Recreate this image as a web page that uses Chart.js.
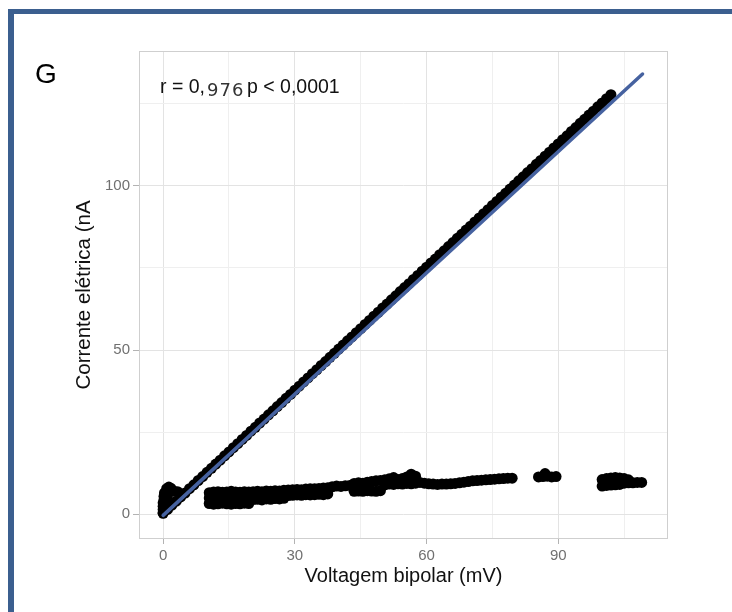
<!DOCTYPE html>
<html>
<head>
<meta charset="utf-8">
<script src="https://cdn.jsdelivr.net/npm/chart.js@4.4.1/dist/chart.umd.min.js"></script>
<style>
  html, body { margin: 0; padding: 0; background: #fff; }
  #wrap { position: relative; width: 732px; height: 612px; overflow: hidden; }
  #frame { position: absolute; left: 8px; top: 9px; right: -10px; bottom: -10px;
           border-left: 6px solid #3b5f8f; border-top: 5px solid #3b5f8f; pointer-events: none; }
  canvas { position: absolute; left: 0; top: 0; }
</style>
</head>
<body>
<div id="wrap">
  <canvas id="chart" width="732" height="612"></canvas>
  <div id="frame"></div>
</div>
<script>
// ticks
const xTicks = [0, 30, 60, 90];
const yTicks = [0, 50, 100];

// points on the steep branch
const diagX = [0,1,2,3,4,5,6,7,8,9,10,11,12,13,14,15,16,17,18,19,20,21,22,23,24,25,26,27,28,29,30,
  31,32,33,34,35,36,37,38,39,40,41,42,43,44,45,46,47,48,49,50,51,52,53,54,55,56,57,58,59,60,
  61,62,63,64,65,66,67,68,69,70,71,72,73,74,75,76,77,78,79,80,81,82,83,84,85,86,87,88,89,90,
  91,92,93,94,95,96,97,98,99,100,101,102];
const diagY = [0.3,1.5,2.8,4.0,5.3,6.5,7.8,9.0,10.3,11.5,12.8,14.0,15.3,16.5,17.8,19.0,20.3,21.5,22.8,24.0,25.3,
  26.5,27.8,29.0,30.3,31.5,32.8,34.0,35.3,36.5,37.8,39.0,40.3,41.5,42.8,44.0,45.3,46.5,47.8,49.0,50.3,
  51.5,52.8,54.0,55.3,56.5,57.8,59.0,60.3,61.5,62.8,64.0,65.3,66.5,67.8,69.0,70.2,71.5,72.7,74.0,75.2,
  76.5,77.7,79.0,80.2,81.5,82.7,84.0,85.2,86.5,87.7,89.0,90.2,91.5,92.7,94.0,95.2,96.5,97.7,99.0,100.2,
  101.5,102.7,104.0,105.2,106.5,107.7,109.0,110.2,111.5,112.7,114.0,115.2,116.5,117.7,119.0,120.2,121.5,122.7,124.0,125.2,
  126.5,127.7];

// cluster at the origin
const zeroX = [0, 0, 0, 0, 0.2, 0.2, 0.3, 0.6, 1, 1, 0.8, 1.3, 1.8, 2.5, 3.3];
const zeroY = [0.5, 1.5, 2.5, 3.5, 4.5, 5.5, 6.5, 3, 4.5, 6, 7.8, 8.3, 7.9, 7.0, 6.9];

// flat branch
const lowX = [
  10.5,11.5,12.5,13.5,14.5,15.5,16.5,17.5,18.5,19.5,
  10.5,11.5,12.5,13.5,14.5,15.5,16.5,17.5,18.5,19.5,
  10.5,11.5,12.5,13.5,14.5,15.5,16.5,17.5,18.5,19.5,
  20.5,21.5,22.5,23.5,24.5,25.5,26.5,27.5,
  20.5,21.5,22.5,23.5,24.5,25.5,26.5,27.5,
  28.5,29.5,30.5,31.5,32.5,33.5,34.5,35.5,36.5,37.5,
  28.5,29.5,30.5,31.5,32.5,33.5,34.5,35.5,36.5,37.5,
  38.5,39.5,40.5,41.5,42.5,
  43.5,44.5,45.5,46.5,47.5,48.5,49.5,
  43.5,44.5,45.5,46.5,47.5,48.5,49.5,
  50.5,51.5,52.5,53.5,54.5,55.5,56.5,57.5,
  50.5,51.5,52.5,53.5,54.5,55.5,56.5,57.5,
  58.5,59.5,60.5,61.5,62.5,63.5,64.5,65.5,66.5,67.5,68.5,69.5,70.5,71.5,72.5,73.5,74.5,75.5,76.5,77.5,78.5,79.5,
  85.5,86.5,87,87.5,88.5,89.5,
  100,101,102,103,104,105,106,107,108,109,
  100,101,102,103,104,105,106
];
const lowY = [
  3.3,3.1,3.2,3.4,3.2,3.1,3.3,3.2,3.4,3.3,
  5.0,4.9,5.1,5.0,4.8,5.0,5.1,4.9,5.0,5.1,
  6.6,6.8,6.9,6.7,6.8,7.0,6.8,6.7,6.9,6.8,
  4.5,4.6,4.4,4.7,4.6,4.8,4.7,4.9,
  6.9,7.0,6.9,7.1,7.0,7.2,7.1,7.3,
  5.7,5.8,5.9,5.8,6.0,5.9,6.0,6.1,6.0,6.2,
  7.4,7.5,7.6,7.5,7.7,7.8,7.8,7.9,8.0,8.1,
  8.4,8.6,8.5,8.7,8.8,
  7.0,7.1,7.0,7.2,7.1,7.0,7.2,
  9.4,9.6,9.5,9.8,10.0,10.2,10.3,
  9.0,9.2,9.1,9.3,9.2,9.4,9.3,9.5,
  10.5,10.8,11.2,10.6,10.9,11.4,12.2,11.6,
  9.7,9.5,9.3,9.2,9.1,9.2,9.2,9.3,9.4,9.6,9.8,10.0,10.2,10.3,10.4,10.5,10.6,10.7,10.8,10.9,11.0,11.0,
  11.4,11.5,12.4,11.6,11.4,11.5,
  8.6,8.8,8.9,9.0,9.1,9.5,9.6,9.6,9.7,9.7,
  10.6,10.9,11.1,11.2,11.1,10.9,10.5
];

// fitted line
const fitX = [0, 109.2];
const fitY = [-0.3, 134.0];

const toPoints = (xs, ys) => xs.map((x, i) => ({ x: x, y: ys[i] }));
const allPoints = toPoints(diagX, diagY).concat(toPoints(zeroX, zeroY), toPoints(lowX, lowY));

const fontFamily = '"Liberation Sans", Arial, Helvetica, sans-serif';

// panel border, panel letter and the correlation text
const panelDecor = {
  id: 'panelDecor',
  afterDraw(chart) {
    const { ctx, chartArea: a } = chart;
    ctx.save();
    ctx.strokeStyle = '#cfcfcf';
    ctx.lineWidth = 1;
    ctx.strokeRect(a.left + 0.5, a.top + 0.5, a.right - a.left - 1, a.bottom - a.top - 1);

    ctx.fillStyle = '#000';
    ctx.textBaseline = 'alphabetic';
    ctx.textAlign = 'left';
    ctx.font = '28px ' + fontFamily;
    ctx.fillText('G', 35, 83);

    ctx.fillStyle = '#111';
    ctx.font = '19.5px ' + fontFamily;
    ctx.fillText('r = 0,', 160, 93);
    ctx.fillText('p < 0,0001', 247, 93);
    ctx.fillStyle = '#333';
    ctx.letterSpacing = '1px';
    ctx.font = '18px "DejaVu Sans", sans-serif';
    ctx.fillText('976', 207, 96);
    ctx.restore();
  }
};

const ctx = document.getElementById('chart').getContext('2d');
new Chart(ctx, {
  type: 'scatter',
  data: {
    datasets: [
      {
        data: toPoints(fitX, fitY),
        showLine: true,
        borderColor: '#4662a0',
        borderWidth: 3.5,
        borderCapStyle: 'round',
        pointRadius: 0,
        order: 0
      },
      {
        data: allPoints,
        backgroundColor: '#000',
        borderWidth: 0,
        pointRadius: 5.5,
        order: 1
      }
    ]
  },
  options: {
    responsive: false,
    animation: false,
    devicePixelRatio: 1,
    layout: { padding: { top: 51, right: 64, left: 0, bottom: 0 } },
    plugins: {
      legend: { display: false },
      tooltip: { enabled: false }
    },
    scales: {
      x: {
        type: 'linear',
        min: -5.5,
        max: 115,
        afterFit: (scale) => { scale.height = 73; },
        border: { display: false },
        grid: {
          color: c => xTicks.includes(c.tick.value) ? '#e3e3e3' : '#efefef',
          tickColor: c => xTicks.includes(c.tick.value) ? '#b3b3b3' : 'rgba(0,0,0,0)',
          tickLength: 5,
          lineWidth: 1
        },
        ticks: {
          stepSize: 15,
          includeBounds: false,
          autoSkip: false,
          maxRotation: 0,
          padding: 3,
          color: '#707070',
          font: { family: fontFamily, size: 15 },
          callback: v => xTicks.includes(v) ? v : ''
        },
        title: {
          display: true,
          text: 'Voltagem bipolar (mV)',
          color: '#111',
          font: { family: fontFamily, size: 20 },
          padding: { top: 0, bottom: 24 }
        }
      },
      y: {
        type: 'linear',
        min: -7.5,
        max: 141,
        afterFit: (scale) => { scale.width = 139; },
        border: { display: false },
        grid: {
          color: c => yTicks.includes(c.tick.value) ? '#e3e3e3' : '#efefef',
          tickColor: c => yTicks.includes(c.tick.value) ? '#b3b3b3' : 'rgba(0,0,0,0)',
          tickLength: 6,
          lineWidth: 1
        },
        ticks: {
          stepSize: 25,
          includeBounds: false,
          autoSkip: false,
          padding: 3,
          color: '#707070',
          font: { family: fontFamily, size: 15 },
          callback: v => yTicks.includes(v) ? v : ''
        },
        title: {
          display: true,
          text: 'Corrente elétrica (nA',
          color: '#111',
          font: { family: fontFamily, size: 20.5 },
          padding: { top: 72, bottom: 0 }
        }
      }
    }
  },
  plugins: [panelDecor]
});
</script>
</body>
</html>
